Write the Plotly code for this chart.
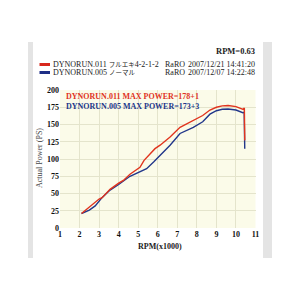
import plotly.graph_objects as go

# Data
red_rpm = [2.1, 2.4, 2.7, 3.0, 3.15, 3.56, 4.0, 4.24, 4.58, 5.09, 5.3, 5.6, 5.86, 6.12, 6.63, 7.14,
           7.65, 7.82, 8.3, 8.67, 9.0, 9.3, 9.6, 10.0, 10.37, 10.43, 10.45]
red_ps = [21, 28, 35, 42, 44, 56, 65, 69, 78, 88, 98, 108, 115, 120, 132, 146,
          154, 156, 163, 171, 175, 177, 177.5, 176, 172, 174, 127]
blue_rpm = [2.1, 2.5, 2.8, 3.05, 3.15, 3.56, 4.0, 4.58, 5.09, 5.43, 5.8, 6.12, 6.63, 7.14,
            7.65, 7.82, 8.3, 8.67, 9.0, 9.3, 9.6, 10.0, 10.35, 10.42, 10.45]
blue_ps = [21, 26, 32, 41, 44, 55, 63, 75, 81, 86, 96, 105, 120, 137,
           144, 146, 154, 165, 170, 172, 172.5, 171, 167, 168, 115]
x_ticks = list(range(1, 12))
y_ticks = [0, 25, 50, 75, 100, 125, 150, 175, 200]

legend_ids = ["DYNORUN.011", "DYNORUN.005"]
legend_notes = ["フルエキ4-2-1-2", "ノーマル"]
legend_users = ["RaRO", "RaRO"]
legend_dates = ["2007/12/21 14:41:20", "2007/12/07 14:22:48"]
max_texts = ["DYNORUN.011 MAX POWER=178+1", "DYNORUN.005 MAX POWER=173+3"]

RED = "#e0341e"
BLUE = "#22378a"
SERIF = "Liberation Serif, DejaVu Serif, Noto Sans CJK JP, serif"
W = H = 300

def px(x):
    return x / W

def py(y):
    return 1 - y / H

def shrink_cjk(s):
    out = ""
    for ch in s:
        if ord(ch) > 0x2000:
            out += "<span style='font-size:6.5px'>" + ch + "</span>"
        else:
            out += ch
    return out

fig = go.Figure()
fig.add_trace(go.Scatter(x=blue_rpm, y=blue_ps, mode="lines",
                         line=dict(color=BLUE, width=1.4), hoverinfo="skip"))
fig.add_trace(go.Scatter(x=red_rpm, y=red_ps, mode="lines",
                         line=dict(color=RED, width=1.4), hoverinfo="skip"))

shapes = [
    dict(type="rect", xref="paper", yref="paper", x0=px(28), x1=px(33), y0=py(258), y1=py(42),
         fillcolor="#e4e4e4", line=dict(width=0), layer="below"),
    dict(type="rect", xref="paper", yref="paper", x0=px(263), x1=px(272), y0=py(258), y1=py(42),
         fillcolor="#e4e4e4", line=dict(width=0), layer="below"),
    dict(type="rect", xref="paper", yref="paper", x0=px(39.5), x1=px(50), y0=py(66), y1=py(63),
         fillcolor="#d8281c", line=dict(width=0)),
    dict(type="rect", xref="paper", yref="paper", x0=px(39.5), x1=px(50), y0=py(74), y1=py(71),
         fillcolor="#1e2f86", line=dict(width=0)),
]

ann = []
def txt(x, y, s, size=8, color="#222", anchor="left", bold=False, angle=0):
    ann.append(dict(x=px(x), y=py(y), xref="paper", yref="paper", text=f"<b>{s}</b>" if bold else s,
                    showarrow=False, xanchor=anchor, yanchor="middle", textangle=angle,
                    font=dict(family=SERIF, size=size, color=color)))

txt(257, 51, "RPM=0.63", size=8.5, anchor="right", bold=True)
for i in range(2):
    y = 64.5 + 8 * i
    txt(51, y, legend_ids[i] + " " + shrink_cjk(legend_notes[i]))
    txt(162.5, y, legend_users[i])
    txt(257, y, legend_dates[i], anchor="right")
txt(64, 97, max_texts[0], size=8, color=RED, bold=True)
txt(64, 106.5, max_texts[1], size=8, color=BLUE, bold=True)
txt(160, 246.5, "RPM(x1000)", size=8, anchor="center", bold=True)
txt(40, 158, "Actual Power (PS)", size=8, color="#444", anchor="center", angle=-90)

fig.update_layout(
    width=W, height=H, margin=dict(l=0, r=0, t=0, b=0),
    paper_bgcolor="white", plot_bgcolor="#fbfbe9", showlegend=False,
    shapes=shapes, annotations=ann,
    xaxis=dict(domain=[px(60), px(255.5)], range=[1, 11], tickvals=x_ticks,
               ticktext=[f"<b>{v}</b>" for v in x_ticks],
               showgrid=True, gridcolor="#e4e4cc", gridwidth=1, zeroline=False,
               showline=False, ticks="", automargin=False,
               tickfont=dict(family=SERIF, size=8, color="#111")),
    yaxis=dict(domain=[py(228), py(90)], range=[0, 200], tickvals=y_ticks,
               ticktext=[f"<b>{v}</b>" for v in y_ticks],
               showgrid=True, gridcolor="#e4e4cc", gridwidth=1, zeroline=False,
               showline=False, ticks="", automargin=False,
               tickfont=dict(family=SERIF, size=8, color="#111")),
)

fig.write_html("out.html")
